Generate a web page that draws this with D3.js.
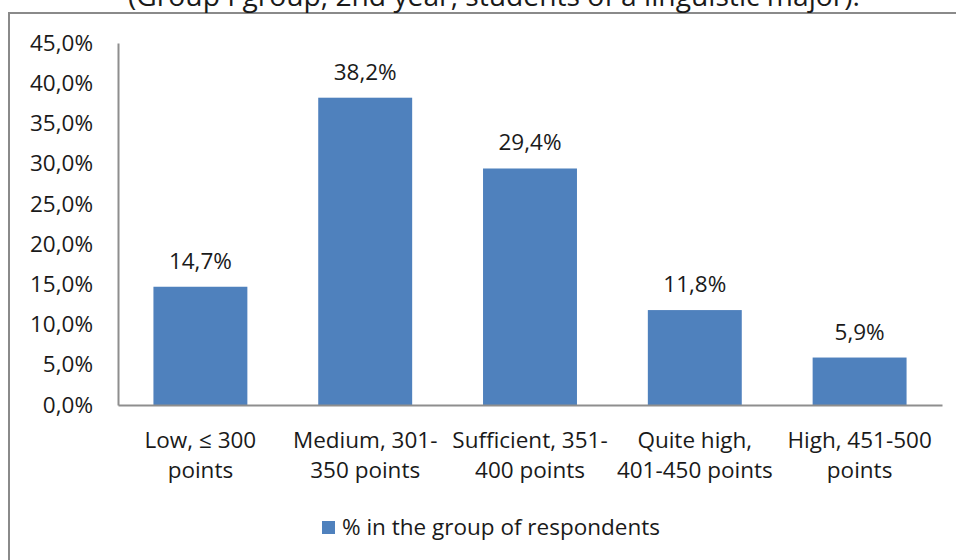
<!DOCTYPE html>
<html>
<head>
<meta charset="utf-8">
<script src="https://cdn.jsdelivr.net/npm/d3@7"></script>
<style>
  body { margin: 0; background: #fff; }
  text { font-family: "Open Sans", "Noto Sans", sans-serif; fill: #1a1a1a; }
</style>
</head>
<body>
<div id="container"></div>
<script>
// chart data
const titleText = "(Group I group, 2nd year, students of a linguistic major).";
const categories = [
    ["Low, \u2264 300", "points"],
    ["Medium, 301-", "350 points"],
    ["Sufficient, 351-", "400 points"],
    ["Quite high,", "401-450 points"],
    ["High, 451-500", "points"]
];
const values = [14.7, 38.2, 29.4, 11.8, 5.9];
const yTicks = [0, 5, 10, 15, 20, 25, 30, 35, 40, 45];
const seriesName = "% in the group of respondents";

const width = 956;
const height = 560;
const plot = { left: 118, right: 942, top: 43, bottom: 405 };
const barColor = "#4f81bd";
const axisColor = "#8e8e8e";
const fontSize = 22.5;

const fmt = v => v.toFixed(1).replace(".", ",") + "%";

const svg = d3.select("#container").append("svg")
    .attr("width", width)
    .attr("height", height);

// outer frame (runs off the right and bottom edge)
svg.append("rect")
    .attr("x", 9)
    .attr("y", 13)
    .attr("width", 1000)
    .attr("height", 600)
    .attr("fill", "none")
    .attr("stroke", "#8a8a8a")
    .attr("stroke-width", 2);

// title, clipped at the top like the source
svg.append("text")
    .attr("x", 494)
    .attr("y", 6)
    .attr("text-anchor", "middle")
    .attr("font-size", 27)
    .attr("textLength", 732)
    .attr("lengthAdjust", "spacingAndGlyphs")
    .text(titleText);

//Scales
const xScale = d3.scaleBand()
    .domain(d3.range(categories.length))
    .range([plot.left, plot.right])
    .paddingInner(0.43)
    .paddingOuter(0.215);

const yScale = d3.scaleLinear()
    .domain([0, 45])
    .range([plot.bottom, plot.top]);

//Y-Axis
const yAxis = svg.append("g")
    .attr("transform", "translate(" + plot.left + ",0)")
    .call(d3.axisLeft(yScale).tickValues(yTicks).tickFormat(fmt).tickSize(0).tickPadding(25));
yAxis.select(".domain").attr("stroke", axisColor).attr("stroke-width", 2);
yAxis.selectAll("text").attr("font-size", fontSize).attr("fill", "#1a1a1a").attr("font-family", "'Open Sans', sans-serif");

//Bars
svg.selectAll("rect.bar")
    .data(values)
    .enter()
    .append("rect")
    .attr("class", "bar")
    .attr("x", (d, i) => xScale(i))
    .attr("y", d => yScale(d))
    .attr("width", xScale.bandwidth())
    .attr("height", d => yScale(0) - yScale(d))
    .attr("fill", barColor);

//X-Axis line
const xAxis = svg.append("g")
    .attr("transform", "translate(0," + plot.bottom + ")")
    .call(d3.axisBottom(xScale).tickSize(0).tickFormat(""));
xAxis.select(".domain").attr("stroke", axisColor).attr("stroke-width", 2);

//Category labels (two lines)
const catLabels = svg.selectAll("text.cat")
    .data(categories)
    .enter()
    .append("text")
    .attr("class", "cat")
    .attr("text-anchor", "middle")
    .attr("font-size", fontSize)
    .attr("x", (d, i) => xScale(i) + xScale.bandwidth() / 2)
    .attr("y", plot.bottom + 43);
catLabels.selectAll("tspan")
    .data(d => d)
    .enter()
    .append("tspan")
    .attr("x", function () { return d3.select(this.parentNode).attr("x"); })
    .attr("dy", (d, i) => i === 0 ? 0 : 30)
    .text(d => d);

//Value labels
svg.selectAll("text.val")
    .data(values)
    .enter()
    .append("text")
    .attr("class", "val")
    .attr("text-anchor", "middle")
    .attr("font-size", fontSize)
    .attr("x", (d, i) => xScale(i) + xScale.bandwidth() / 2)
    .attr("y", d => yScale(d) - 18)
    .text(fmt);

//Legend
svg.append("rect")
    .attr("x", 322)
    .attr("y", 521)
    .attr("width", 13)
    .attr("height", 13)
    .attr("fill", barColor);
svg.append("text")
    .attr("x", 342)
    .attr("y", 535)
    .attr("font-size", fontSize)
    .text(seriesName);
</script>
</body>
</html>
